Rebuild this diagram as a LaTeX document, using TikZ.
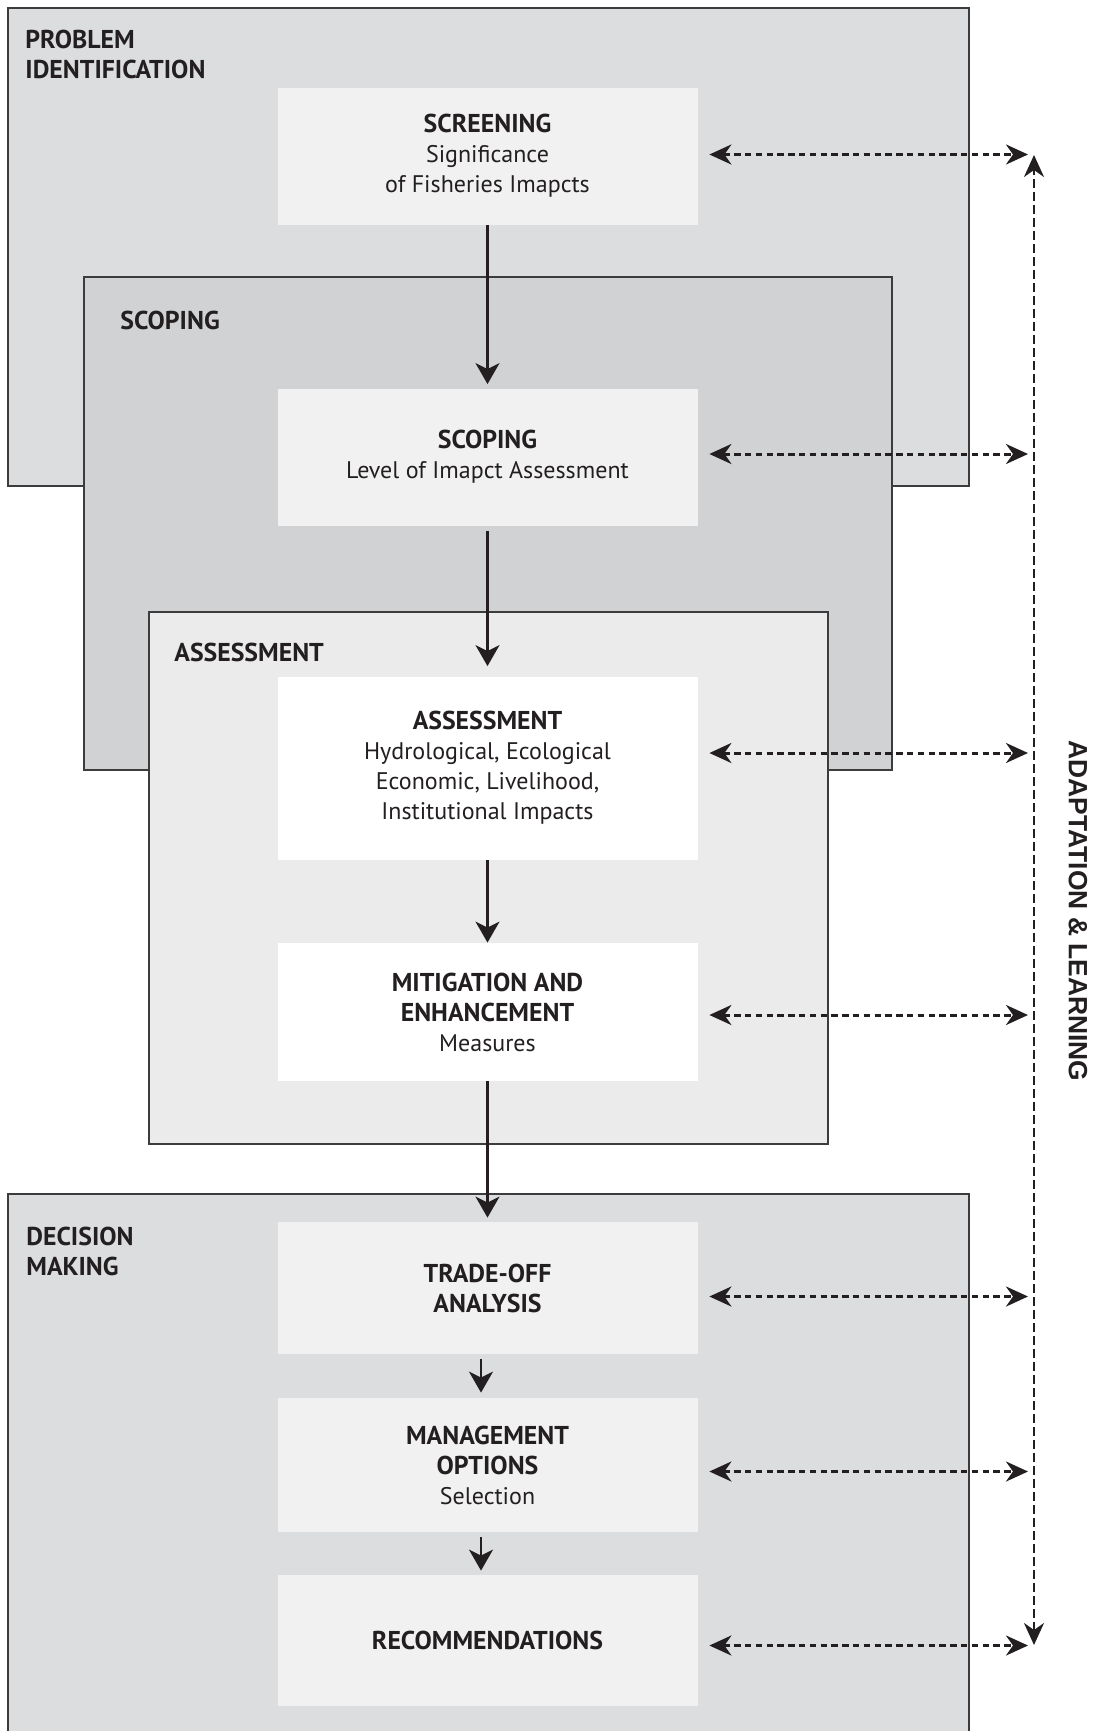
\documentclass[tikz,border=0pt]{standalone}
\usepackage{fontspec}
\setmainfont{PT Sans}
\newfontfamily\loopfont{Liberation Sans}
\usetikzlibrary{arrows.meta,calc}

\definecolor{ink}{RGB}{35,31,32}
\definecolor{panelline}{RGB}{60,60,60}
\definecolor{probgray}{RGB}{220,221,223}
\definecolor{scopegray}{RGB}{209,210,212}
\definecolor{assessgray}{RGB}{235,235,235}
\definecolor{stepgray}{RGB}{241,241,241}

\newcommand{\headtext}[1]{{\fontsize{12.9}{15}\selectfont\bfseries #1}}

\begin{document}
\begin{tikzpicture}[x=0.5pt,y=-0.5pt,font=\fontsize{12}{15}\selectfont,text=ink,
    panel/.style={draw=panelline, line width=0.6pt},
    panellabel/.style={anchor=north west, align=left, inner sep=0pt, font=\fontsize{12.9}{15}\selectfont\bfseries},
    stepbox/.style={minimum width=210pt, minimum height=68.5pt, inner sep=0pt, align=center, fill=stepgray},
    flow/.style={-{Stealth[length=10.5pt,width=12pt,inset=3pt]}, line width=1.1pt, draw=ink},
    feedback/.style={{Stealth[length=11pt,width=10pt,inset=3.5pt]}-{Stealth[length=11pt,width=10pt,inset=3.5pt]},
        line width=1.5pt, dash pattern=on 3.2pt off 2.2pt, draw=ink},
    loopline/.style={{Stealth[length=11pt,width=10pt,inset=3.5pt]}-{Stealth[length=11pt,width=10pt,inset=3.5pt]},
        line width=1.1pt, dash pattern=on 4.2pt off 2.3pt, draw=ink}
]

    % --- Canvas ---
    \useasboundingbox (0,0) rectangle (1098,1731);
    \fill[white] (0,0) rectangle (1098,1731);

    % --- Stage panels ---
    \begin{scope}
        \clip (0,0) rectangle (1098,1731);
        \filldraw[panel, fill=probgray] (8,8) rectangle (969,486);
        \filldraw[panel, fill=scopegray] (84,277) rectangle (892,770);
        \filldraw[panel, fill=assessgray] (149,612) rectangle (828,1144);
        \filldraw[panel, fill=probgray] (8,1194) rectangle (969,1760);
    \end{scope}

    \node[panellabel] (probtitle) at (25,30) {PROBLEM\\IDENTIFICATION};
    \node[panellabel] (scopetitle) at (120,311) {SCOPING};
    \node[panellabel] (assesstitle) at (174,643) {ASSESSMENT};
    \node[panellabel] (decisiontitle) at (26,1227) {DECISION\\MAKING};

    % --- Steps ---
    \node[stepbox] (screening) at (487.5,156)
        {\headtext{SCREENING}\\Significance\\of Fisheries Imapcts};
    \node[stepbox] (scoping) at (487.5,457)
        {\headtext{SCOPING}\\Level of Imapct Assessment};
    \node[stepbox, fill=white, minimum height=91.5pt] (assess) at (487.5,768)
        {\headtext{ASSESSMENT}\\Hydrological, Ecological\\Economic, Livelihood,\\Institutional Impacts};
    \node[stepbox, fill=white, minimum height=69pt] (mitig) at (487.5,1012)
        {\headtext{MITIGATION AND}\\\headtext{ENHANCEMENT}\\Measures};
    \node[stepbox, minimum height=66pt] (tradeoff) at (487.5,1288)
        {\headtext{TRADE-OFF}\\\headtext{ANALYSIS}};
    \node[stepbox, minimum height=67pt] (mgmt) at (487.5,1465)
        {\headtext{MANAGEMENT}\\\headtext{OPTIONS}\\Selection};
    \node[stepbox, minimum height=65.5pt] (recomm) at (487.5,1640.5)
        {\headtext{RECOMMENDATIONS}};

    % --- Main flow ---
    \draw[flow, shorten >=2pt] (screening.south) -- (scoping.north);
    \draw[flow, shorten <=2.5pt, shorten >=5pt] (scoping.south) -- (assess.north);
    \draw[flow] (assess.south) -- (mitig.north);
    \draw[flow, shorten >=2pt] (mitig.south) -- (tradeoff.north);
    \draw[flow, shorten <=2.5pt, shorten >=2.5pt] ([xshift=-3.25pt]tradeoff.south) -- ([xshift=-3.25pt]mgmt.north);
    \draw[flow, shorten <=2.5pt, shorten >=2pt] ([xshift=-3.25pt]mgmt.south) -- ([xshift=-3.25pt]recomm.north);

    % --- Adaptation & learning loop ---
    \coordinate (looptop) at (1034,155);
    \coordinate (loopbot) at (1034,1645);
    \draw[loopline] (loopbot) -- (looptop);

    \draw[feedback] ($(screening.east)+(11.5,-1.5)$) -- ($(screening.east -| looptop)+(-6,-1.5)$);
    \draw[feedback] ($(scoping.east)+(11.5,-3)$) -- ($(scoping.east -| looptop)+(-6,-3)$);
    \draw[feedback] ($(assess.east)+(11.5,-15)$) -- ($(assess.east -| looptop)+(-6,-15)$);
    \draw[feedback] ($(mitig.east)+(11.5,3)$) -- ($(mitig.east -| looptop)+(-6,3)$);
    \draw[feedback] ($(tradeoff.east)+(11.5,8.5)$) -- ($(tradeoff.east -| looptop)+(-6,8.5)$);
    \draw[feedback] ($(mgmt.east)+(11.5,6.5)$) -- ($(mgmt.east -| looptop)+(-6,6.5)$);
    \draw[feedback] ($(recomm.east)+(11.5,5)$) -- ($(recomm.east -| looptop)+(-6,5)$);

    \node[rotate=-90, inner sep=0pt, font=\loopfont\fontsize{13.2}{15}\selectfont\bfseries] (looplabel) at (1078,911)
        {ADAPTATION \& LEARNING};

\end{tikzpicture}
\end{document}
